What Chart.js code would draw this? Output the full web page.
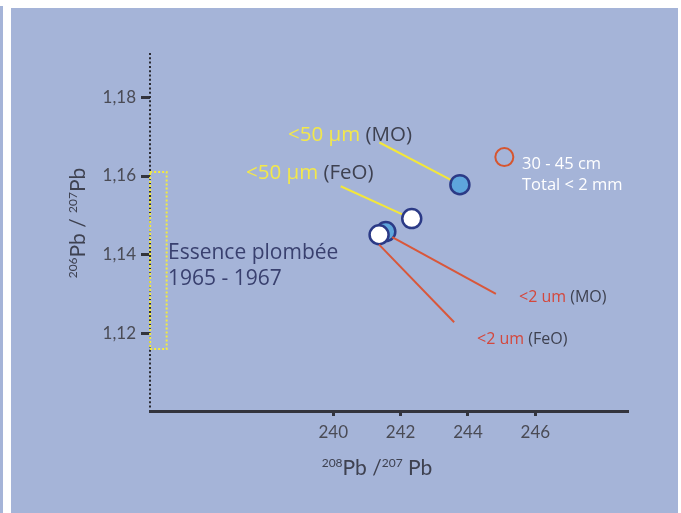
<!DOCTYPE html>
<html>
<head>
<meta charset="utf-8">
<script src="https://cdn.jsdelivr.net/npm/chart.js@4.4.0/dist/chart.umd.min.js"></script>
<style>
  html, body { margin: 0; padding: 0; background: #fff; }
  #wrap { width: 681px; height: 513px; }
</style>
</head>
<body>
<div id="wrap"><canvas id="leadChart" width="681" height="513"></canvas></div>
<script>
// tick values
const xTicks = [240, 242, 244, 246];
const yTicks = [1.12, 1.14, 1.16, 1.18];

// samples (208Pb/207Pb , 206Pb/207Pb)
const moFine = [{ x: 243.76, y: 1.1578 }, { x: 241.56, y: 1.1459 }];   // blue filled
const feoFine = [{ x: 242.33, y: 1.1492 }, { x: 241.36, y: 1.1451 }];  // white
const totalSoil = [{ x: 245.08, y: 1.1648 }];                           // red open

// connector lines from labels to the points
const yellowMO = [{ x: 241.37, y: 1.1685 }, { x: 243.76, y: 1.1578 }];
const yellowFeO = [{ x: 240.22, y: 1.1574 }, { x: 242.33, y: 1.1492 }];
const redMO = [{ x: 244.83, y: 1.1301 }, { x: 241.75, y: 1.1445 }];
const redFeO = [{ x: 243.59, y: 1.1229 }, { x: 241.36, y: 1.1426 }];

// leaded petrol range box
const petrolBox = [
  { x: 234.56, y: 1.1610 }, { x: 235.05, y: 1.1610 },
  { x: 235.05, y: 1.1161 }, { x: 234.56, y: 1.1161 }, { x: 234.56, y: 1.1610 }
];

const FONT = 'Lato, "Open Sans", sans-serif';
const NOTE_FONT = '"Open Sans", Lato, sans-serif';
const PANEL = '#a5b4d8';

const backgroundPlugin = {
  id: 'panelBg',
  beforeDraw(chart) {
    const ctx = chart.ctx;
    ctx.save();
    ctx.fillStyle = '#ffffff';
    ctx.fillRect(0, 0, chart.width, chart.height);
    ctx.fillStyle = PANEL;
    ctx.fillRect(0, 6, 3, chart.height);
    ctx.fillRect(11, 8, 667, chart.height);
    ctx.restore();
  },
  beforeDatasetsDraw(chart) {
    // dotted y axis line
    const ctx = chart.ctx, a = chart.chartArea;
    ctx.save();
    ctx.strokeStyle = '#2a2b33';
    ctx.lineWidth = 2;
    ctx.setLineDash([2, 2.3]);
    ctx.beginPath();
    ctx.moveTo(a.left, a.top);
    ctx.lineTo(a.left, a.bottom - 3);
    ctx.stroke();
    ctx.restore();
  }
};

function drawParts(ctx, x, y, parts, family) {
  let cx = x;
  parts.forEach(p => {
    ctx.font = p.size + 'px ' + (family || FONT);
    ctx.fillStyle = p.color;
    ctx.fillText(p.text, cx, y + (p.dy || 0));
    cx += ctx.measureText(p.text).width;
  });
  return cx - x;
}

function measureParts(ctx, parts) {
  let w = 0;
  parts.forEach(p => {
    ctx.font = p.size + 'px ' + FONT;
    w += ctx.measureText(p.text).width;
  });
  return w;
}

const textPlugin = {
  id: 'texts',
  afterDraw(chart) {
    const ctx = chart.ctx;
    ctx.save();
    ctx.textBaseline = 'middle';
    ctx.textAlign = 'left';
    const yel = '#f3e84a', grey = '#3e4150', red = '#d4473c';

    drawParts(ctx, 288, 135, [{ text: '<50 µm ', size: 20.5, color: yel }, { text: '(MO)', size: 20.5, color: grey }], NOTE_FONT);
    drawParts(ctx, 246, 173, [{ text: '<50 µm ', size: 20.5, color: yel }, { text: '(FeO)', size: 20.5, color: grey }], NOTE_FONT);
    drawParts(ctx, 519, 297, [{ text: '<2 um ', size: 16, color: red }, { text: '(MO)', size: 16, color: grey }], NOTE_FONT);
    drawParts(ctx, 477, 339, [{ text: '<2 um ', size: 16, color: red }, { text: '(FeO)', size: 16, color: grey }], NOTE_FONT);

    ctx.font = '16.5px ' + NOTE_FONT;
    ctx.fillStyle = '#ffffff';
    ctx.fillText('30 - 45 cm', 522, 164);
    ctx.fillText('Total < 2 mm', 522, 185);

    ctx.font = '21px ' + NOTE_FONT;
    ctx.fillStyle = '#39406f';
    ctx.fillText('Essence plombée', 168, 253);
    ctx.fillText('1965 - 1967', 168, 279);

    // axis titles with superscripts
    ctx.textBaseline = 'alphabetic';
    const xt = [
      { text: '208', size: 12, color: grey, dy: -8 },
      { text: 'Pb /', size: 21, color: grey },
      { text: '207', size: 12, color: grey, dy: -8 },
      { text: ' Pb', size: 21, color: grey }
    ];
    const xw = measureParts(ctx, xt);
    drawParts(ctx, 377 - xw / 2, 475, xt);

    const yt = [
      { text: '206', size: 12, color: grey, dy: -8 },
      { text: 'Pb / ', size: 21, color: grey },
      { text: '207', size: 12, color: grey, dy: -8 },
      { text: 'Pb', size: 21, color: grey }
    ];
    ctx.translate(85, 223);
    ctx.rotate(-Math.PI / 2);
    const yw = measureParts(ctx, yt);
    drawParts(ctx, -yw / 2, 0, yt);
    ctx.restore();
  }
};

const lineSet = (data, color, order) => ({
  type: 'line', data, showLine: true, borderColor: color, borderWidth: 2,
  pointRadius: 0, fill: false, order, clip: false
});

new Chart(document.getElementById('leadChart'), {
  type: 'scatter',
  data: {
    datasets: [
      {
        data: feoFine, backgroundColor: '#ffffff', borderColor: '#2b3a86',
        borderWidth: 2.5, pointRadius: 9.5, order: 1, clip: false
      },
      {
        data: moFine, backgroundColor: '#5ea6dc', borderColor: '#2b3a86',
        borderWidth: 2.5, pointRadius: 9.5, order: 2, clip: false
      },
      {
        data: totalSoil, backgroundColor: 'rgba(0,0,0,0)', borderColor: '#d6552f',
        borderWidth: 2, pointRadius: 9, order: 3, clip: false
      },
      lineSet(yellowMO, '#f3e73a', 5),
      lineSet(yellowFeO, '#f3e73a', 5),
      lineSet(redMO, '#d9573a', 0),
      lineSet(redFeO, '#d9573a', 0),
      Object.assign(lineSet(petrolBox, '#f5ec3c', 6), { borderDash: [2, 2], borderWidth: 2 })
    ]
  },
  options: {
    responsive: false,
    animation: false,
    events: [],
    layout: { padding: { top: 53, right: 53, left: 0, bottom: 0 } },
    plugins: { legend: { display: false }, tooltip: { enabled: false } },
    scales: {
      x: {
        type: 'linear', min: 234.556, max: 248.753,
        afterBuildTicks: s => { s.ticks = xTicks.map(v => ({ value: v })); },
        afterFit: s => { s.height = 102; },
        grid: { drawOnChartArea: false, tickLength: 5, tickWidth: 3, color: '#33343d' },
        border: { color: '#33343d', width: 3 },
        ticks: { font: { family: FONT, size: 17 }, color: '#4a4b55', padding: 6 }
      },
      y: {
        type: 'linear', min: 1.1004, max: 1.1912,
        afterBuildTicks: s => { s.ticks = yTicks.map(v => ({ value: v })); },
        afterFit: s => { s.width = 150; },
        grid: { drawOnChartArea: false, tickLength: 9, tickWidth: 3, color: '#33343d' },
        border: { display: false },
        ticks: {
          font: { family: FONT, size: 17 }, color: '#4a4b55', padding: 5,
          callback: v => v.toFixed(2).replace('.', ',')
        }
      }
    }
  },
  plugins: [backgroundPlugin, textPlugin]
});
</script>
</body>
</html>
